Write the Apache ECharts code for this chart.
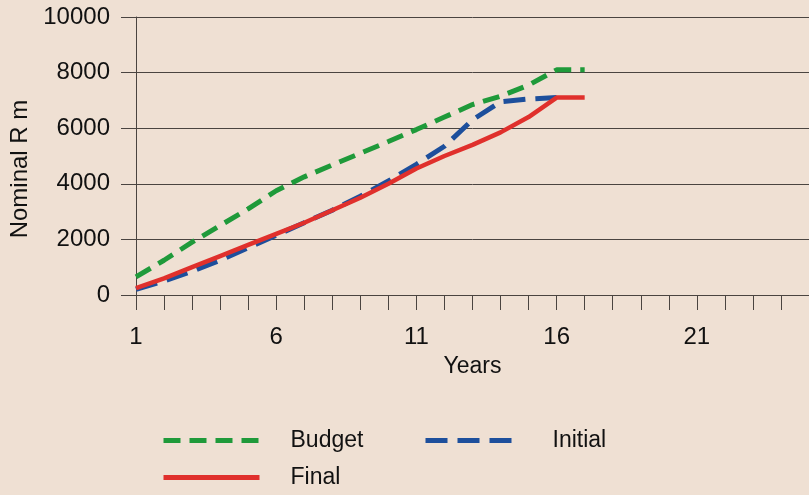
<!DOCTYPE html>
<html><head><meta charset="utf-8">
<script src="https://cdn.jsdelivr.net/npm/echarts@6/dist/echarts.min.js"></script>
<style>html,body{margin:0;padding:0;background:#efe0d3;}#c{width:809px;height:495px;}</style>
</head><body><div id="c"></div>
<script>
const years = ['1','2','3','4','5','6','7','8','9','10','11','12','13','14','15','16','17','18','19','20','21','22','23','24','25'];
const budget  = [650,1250,1900,2500,3100,3750,4250,4680,5100,5520,5950,6400,6850,7150,7550,8100,8100];
const initial = [200,500,850,1250,1700,2150,2600,3050,3550,4100,4700,5350,6300,6950,7050,7100];
const finalV  = [250,600,1000,1400,1800,2200,2600,3050,3500,4000,4550,5000,5400,5850,6400,7100,7100];
const yTicks = [0,2000,4000,6000,8000,10000];

const font = 'Liberation Sans, Arial, sans-serif';
const chart = echarts.init(document.getElementById('c'));
const legendBase = {
  orient:'horizontal', padding:0, itemWidth:96, itemHeight:14,
  textStyle:{fontFamily:font,fontSize:23,color:'#111',padding:[0,0,0,26]},
  itemStyle:{color:'rgba(0,0,0,0)',borderWidth:0,opacity:0},
  selectedMode:false
};
chart.setOption({
  backgroundColor:'#efe0d3',
  animation:false,
  grid:{left:136, top:17, right:0, height:278, containLabel:false},
  xAxis:{
    type:'category', data:years, boundaryGap:false,
    name:'Years', nameLocation:'middle', nameGap:60,
    nameTextStyle:{fontFamily:font,fontSize:23,color:'#111'},
    axisLine:{lineStyle:{color:'#4a4440',width:1}},
    axisTick:{show:true,interval:0,length:15,inside:false,lineStyle:{color:'#4a4440'}},
    axisLabel:{interval:4,margin:30,fontFamily:font,fontSize:24,color:'#111'},
    splitLine:{show:false}
  },
  yAxis:{
    type:'value', min:yTicks[0], max:yTicks[yTicks.length-1], interval:2000,
    name:'Nominal R m', nameLocation:'middle', nameGap:103, nameRotate:90,
    nameTextStyle:{fontFamily:font,fontSize:24,color:'#111',padding:[0,26,0,0]},
    axisLine:{show:true,lineStyle:{color:'#4a4440',width:1}},
    axisTick:{show:true,length:15,lineStyle:{color:'#4a4440'}},
    axisLabel:{margin:26,fontFamily:font,fontSize:24,color:'#111',formatter:function(v){return String(v);}},
    splitLine:{show:true,lineStyle:{color:'#4a4440',width:1}}
  },
  legend:[
    Object.assign({},legendBase,{data:[{name:'Budget',lineStyle:{width:5}}],left:161,top:429}),
    Object.assign({},legendBase,{data:[{name:'Initial',lineStyle:{width:5}}],left:423,top:429}),
    Object.assign({},legendBase,{data:[{name:'Final',lineStyle:{width:5}}],left:161,top:466})
  ],
  series:[
    {name:'Budget',type:'line',data:budget,symbol:'none',smooth:false,
     lineStyle:{color:'#1f9a3a',width:5,type:[17,9]},itemStyle:{color:'#1f9a3a'}},
    {name:'Initial',type:'line',data:initial,symbol:'none',
     lineStyle:{color:'#1d4f9c',width:5,type:[22,10]},itemStyle:{color:'#1d4f9c'}},
    {name:'Final',type:'line',data:finalV,symbol:'none',
     lineStyle:{color:'#e0302c',width:4.5,type:'solid'},itemStyle:{color:'#e0302c'}}
  ]
});
</script></body></html>
